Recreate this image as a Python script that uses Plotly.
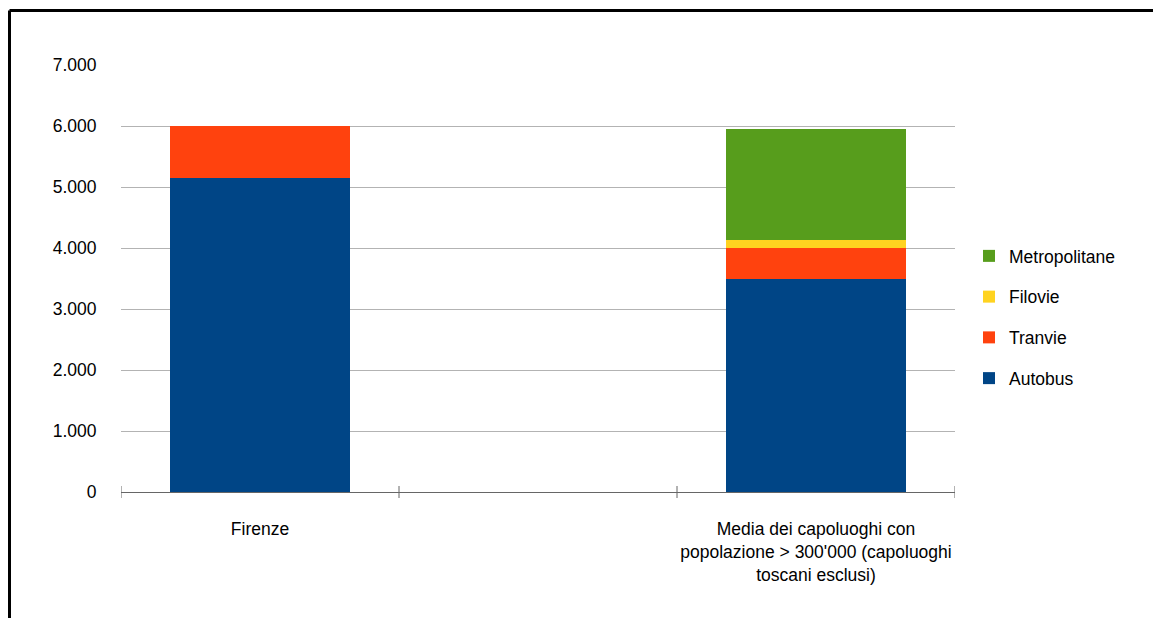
import plotly.graph_objects as go

# Categories and series values (stacked); the middle slot of the axis is left empty
categories = [
    "Firenze",
    "Media dei capoluoghi con<br>popolazione > 300'000 (capoluoghi<br>toscani esclusi)",
]
axis_slots = [categories[0], " ", categories[1]]
autobus = [5155, 3487]
tranvie = [845, 513]
filovie = [0, 126]
metropolitane = [0, 1820]

series = [
    ("Autobus", autobus, "#004586", 4),
    ("Tranvie", tranvie, "#ff420e", 3),
    ("Filovie", filovie, "#ffd320", 2),
    ("Metropolitane", metropolitane, "#579d1c", 1),
]

FONT = "Liberation Sans, Arial, sans-serif"

fig = go.Figure()
for name, vals, color, rank in series:
    fig.add_trace(go.Bar(
        x=categories, y=vals, name=name, legendgroup=name, legendrank=rank,
        marker=dict(color=color, line=dict(width=0)),
    ))

W, H = 1153, 618
L, R, T, B = 121, 955, 65, 492

def px_x(px):
    return (px - L) / (R - L)

def px_y(py):
    return (B - py) / (B - T)

shapes = [
    # outer frame (left and top edges visible)
    dict(type="line", xref="paper", yref="paper", x0=px_x(9.5), x1=px_x(1300),
         y0=px_y(10.5), y1=px_y(10.5), line=dict(color="black", width=3)),
    dict(type="line", xref="paper", yref="paper", x0=px_x(9.5), x1=px_x(9.5),
         y0=px_y(10.5), y1=px_y(700), line=dict(color="black", width=3)),
]
# category boundary ticks crossing the x axis
for xb in [-0.5, 0.5, 1.5, 2.5]:
    shapes.append(dict(type="line", xref="x", yref="paper", x0=xb, x1=xb,
                       y0=px_y(498), y1=px_y(486),
                       line=dict(color="#666666", width=1)))

fig.update_layout(
    width=W, height=H,
    margin=dict(l=L, r=W - R, t=T, b=H - B),
    paper_bgcolor="white", plot_bgcolor="white",
    barmode="stack", bargap=0.356,
    separators=",.",
    font=dict(family=FONT, size=17.5, color="#000000"),
    xaxis=dict(
        type="category", categoryorder="array", categoryarray=axis_slots,
        tickvals=axis_slots, ticktext=[axis_slots[0], "", axis_slots[2]],
        range=[-0.5, 2.5], showgrid=False, showline=True,
        linecolor="#666666", linewidth=1, ticks="", tickfont=dict(size=17.5),
        ticklabelstandoff=21,
    ),
    yaxis=dict(
        range=[0, 7000], tickvals=[0, 1000, 2000, 3000, 4000, 5000, 6000, 7000],
        tickformat=",.0f", showgrid=True, gridcolor="#b3b3b3", gridwidth=1,
        showline=False, zeroline=False, ticks="outside", ticklen=20,
        tickcolor="rgba(0,0,0,0)", tickfont=dict(size=17.5),
    ),
    legend=dict(
        x=px_x(969), xanchor="left", y=0.5 * (px_y(257) + px_y(377)), yanchor="middle",
        traceorder="grouped", tracegroupgap=15,
        font=dict(size=17.5), bgcolor="rgba(0,0,0,0)", borderwidth=0,
    ),
    shapes=shapes,
)

fig.write_html("out.html")
